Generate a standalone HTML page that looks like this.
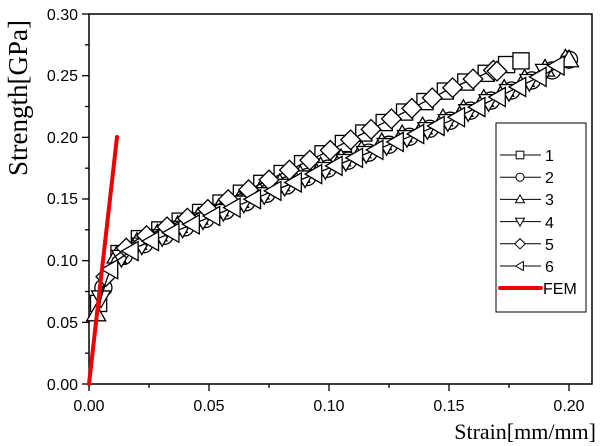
<!DOCTYPE html>
<html><head><meta charset="utf-8"><style>
body{margin:0;background:#fff}
svg{display:block}
text{font-family:"Liberation Sans",Arial,sans-serif;font-size:16px;fill:#000}
.serif{font-family:"Liberation Serif",serif}
</style></head><body>
<svg id="s" width="601" height="446" xmlns="http://www.w3.org/2000/svg">
<rect x="89" y="14" width="503" height="370" fill="none" stroke="#000" stroke-width="1.5"/>
<g id="ticks" stroke="#000" stroke-width="1.3"></g>
<g id="data" fill="#fff" stroke="#000" stroke-width="1.3"></g>
<line x1="89" y1="384" x2="117" y2="137" stroke="#e00" stroke-width="4" stroke-linecap="round"/>
<g text-anchor="end">
<text x="78" y="20">0.30</text><text x="78" y="81">0.25</text><text x="78" y="143">0.20</text>
<text x="78" y="204">0.15</text><text x="78" y="266">0.10</text><text x="78" y="328">0.05</text><text x="78" y="390">0.00</text>
</g>
<g text-anchor="middle">
<text x="89" y="411">0.00</text><text x="209" y="411">0.05</text><text x="329" y="411">0.10</text>
<text x="449" y="411">0.15</text><text x="569" y="411">0.20</text>
</g>
<text class="serif" x="596" y="439" text-anchor="end" style="font-size:22px">Strain[mm/mm]</text>
<text class="serif" transform="translate(27,98) rotate(-90)" text-anchor="middle" style="font-size:27px">Strength[GPa]</text>
<rect x="496" y="123" width="90" height="189" fill="#fff" stroke="#000" stroke-width="1"/>
<g id="leg" fill="#fff" stroke="#000" stroke-width="1"></g>
<g style="font-size:17px">
<text x="545" y="161">1</text><text x="545" y="183">2</text><text x="545" y="205">3</text>
<text x="545" y="228">4</text><text x="545" y="250">5</text><text x="545" y="272">6</text>
<text x="543" y="294">FEM</text>
</g>
<line x1="500" y1="288" x2="541" y2="288" stroke="#e00" stroke-width="4" stroke-linecap="round"/>
</svg>
<script>
const NS="http://www.w3.org/2000/svg";
function el(p,t,a){const e=document.createElementNS(NS,t);for(const k in a)e.setAttribute(k,a[k]);p.appendChild(e);return e}
const X=e=>89+e*2400, Y=s=>384-s*1233.3;
const tk=document.getElementById('ticks');
for(let i=0;i<=12;i++){const y=Y(i*0.025);el(tk,'line',{x1:89,x2:89-(i%2?4:7),y1:y,y2:y})}
for(let i=0;i<=8;i++){const x=X(i*0.025);el(tk,'line',{x1:x,x2:x,y1:384,y2:384+(i%2?4:7)})}
function marker(g,type,x,y,r){
 if(type==0)el(g,'rect',{x:x-r*0.85,y:y-r*0.85,width:r*1.7,height:r*1.7});
 else if(type==1)el(g,'circle',{cx:x,cy:y,r:r*0.9});
 else if(type==2)el(g,'polygon',{points:`${x},${y-r} ${x+r},${y+r*0.75} ${x-r},${y+r*0.75}`});
 else if(type==3)el(g,'polygon',{points:`${x},${y+r} ${x+r},${y-r*0.75} ${x-r},${y-r*0.75}`});
 else if(type==4)el(g,'polygon',{points:`${x},${y-r*1.15} ${x+r*1.15},${y} ${x},${y+r*1.15} ${x-r*1.15},${y}`});
 else el(g,'polygon',{points:`${x-r},${y} ${x+r*0.75},${y-r} ${x+r*0.75},${y+r}`});
}
function interp(pts,e){for(let i=1;i<pts.length;i++){if(e<=pts[i][0]){const a=pts[i-1],b=pts[i];return a[1]+(b[1]-a[1])*(e-a[0])/(b[0]-a[0])}}return pts[pts.length-1][1]}
const up=[[0,0],[0.003,0.055],[0.006,0.08],[0.01,0.1],[0.02,0.115],[0.05,0.14],[0.1,0.187],[0.15,0.237],[0.18,0.262]];
const lo=[[0,0],[0.003,0.055],[0.006,0.08],[0.01,0.1],[0.02,0.113],[0.05,0.137],[0.1,0.177],[0.15,0.215],[0.2,0.263]];
const series=[[0,up,0.18,0.001],[1,lo,0.2,0.003],[2,lo,0.2,0.0],[3,lo,0.19,0.002],[4,up,0.17,0.004],[5,lo,0.195,0.006]];
const g=document.getElementById('data');
series.forEach(([t,pts,emax,off],k)=>{
 let d='';const ps=[];
 for(let e=0;e<=emax+1e-9;e+=0.0025){const yy=interp(pts,e)+(k%2?-0.002:0.002);d+=(d?'L':'M')+X(e).toFixed(1)+','+Y(yy).toFixed(1)}
 el(g,'path',{d:d,fill:'none'});
 for(let e=0.003+off;e<=emax+1e-9;e+=0.0085){ps.push([X(e),Y(interp(pts,e)+(k%2?-0.002:0.002))])}
 ps.push([X(emax),Y(interp(pts,emax))]);
 ps.forEach(p=>marker(g,t,p[0],p[1],t==4?8.5:9.5));
});
const lg=document.getElementById('leg');
for(let i=0;i<6;i++){const y=155+i*22.2;el(lg,'line',{x1:500,x2:541,y1:y,y2:y});marker(lg,i,520,y,4.5)}
</script>
</body></html>
